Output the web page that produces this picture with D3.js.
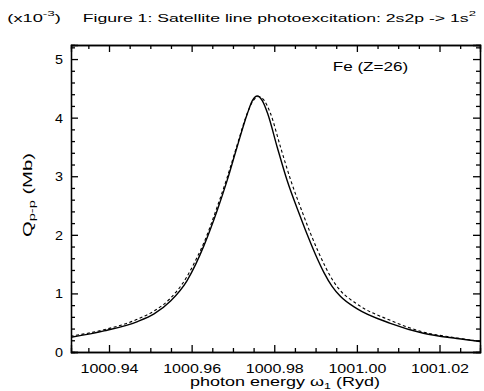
<!DOCTYPE html>
<html><head><meta charset="utf-8">
<script src="https://cdn.jsdelivr.net/npm/d3@7"></script>
<style>
html,body{margin:0;padding:0;background:#fff;}
svg{display:block;}
text{font-family:"Liberation Sans",Arial,sans-serif;fill:#000;}
</style></head><body>
<script>
// ---- data ----
const solidX = [1000.9307, 1000.9388, 1000.9469, 1000.9509, 1000.9549, 1000.9589, 1000.9610, 1000.9630, 1000.9662, 1000.9686, 1000.9710, 1000.9735, 1000.9747, 1000.9759, 1000.9771, 1000.9784, 1000.9807, 1000.9831, 1000.9862, 1000.9880, 1000.9900, 1000.9920, 1000.9940, 1000.9960, 1001.0000, 1001.0081, 1001.0161, 1001.0242, 1001.0298];
const solidY = [0.25, 0.36, 0.52, 0.65, 0.87, 1.22, 1.50, 1.82, 2.42, 2.93, 3.50, 4.07, 4.29, 4.37, 4.29, 4.07, 3.50, 2.93, 2.33, 2.00, 1.66, 1.36, 1.12, 0.95, 0.74, 0.49, 0.32, 0.23, 0.18];
const dashX = [1000.9307, 1000.9388, 1000.9469, 1000.9509, 1000.9549, 1000.9589, 1000.9610, 1000.9630, 1000.9662, 1000.9686, 1000.9710, 1000.9735, 1000.9749, 1000.9762, 1000.9776, 1000.9791, 1000.9815, 1000.9840, 1000.9871, 1000.9888, 1000.9906, 1000.9924, 1000.9942, 1000.9960, 1001.0000, 1001.0081, 1001.0161, 1001.0242, 1001.0298];
const dashY = [0.27, 0.38, 0.56, 0.70, 0.92, 1.29, 1.57, 1.87, 2.48, 2.98, 3.53, 4.08, 4.29, 4.36, 4.29, 4.07, 3.50, 2.93, 2.33, 2.02, 1.72, 1.45, 1.22, 1.05, 0.82, 0.54, 0.34, 0.24, 0.18];
const xDomain = [1000.9308, 1001.0298];
const yDomain = [0, 5.24];
const xTicks = [1000.94, 1000.96, 1000.98, 1001.00, 1001.02];
const xTickLabels = ["1000.94", "1000.96", "1000.98", "1001.00", "1001.02"];
const xMinorStep = 0.005;
const yTicks = [0, 1, 2, 3, 4, 5];
const yTickLabels = ["0", "1", "2", "3", "4", "5"];
const yMinorStep = 0.2;

// ---- layout ----
const W = 484, H = 391;
const L = 71, R = 480, T = 45, B = 352;

const svg = d3.select("body").append("svg").attr("width", W).attr("height", H);

const x = d3.scaleLinear().domain(xDomain).range([L, R]);
const y = d3.scaleLinear().domain(yDomain).range([B, T]);

const xMinor = d3.range(Math.ceil(xDomain[0] / xMinorStep) * xMinorStep, xDomain[1], xMinorStep)
  .filter(v => !xTicks.some(t => Math.abs(t - v) < 1e-6));
const yMinor = d3.range(0, yDomain[1], yMinorStep)
  .filter(v => !yTicks.some(t => Math.abs(t - v) < 1e-6));

function styleAxis(g) {
  g.selectAll(".domain").attr("stroke", "#000").attr("stroke-width", 1.3);
  g.selectAll(".tick line").attr("stroke", "#000").attr("stroke-width", 1.3);
}

// minor ticks
svg.append("g").attr("transform", `translate(0,${B})`)
  .call(d3.axisBottom(x).tickValues(xMinor).tickSize(-4).tickFormat(""))
  .call(styleAxis);
svg.append("g").attr("transform", `translate(0,${T})`)
  .call(d3.axisTop(x).tickValues(xMinor).tickSize(-4).tickFormat(""))
  .call(styleAxis);
svg.append("g").attr("transform", `translate(${L},0)`)
  .call(d3.axisLeft(y).tickValues(yMinor).tickSize(-4).tickFormat(""))
  .call(styleAxis);
svg.append("g").attr("transform", `translate(${R},0)`)
  .call(d3.axisRight(y).tickValues(yMinor).tickSize(-4).tickFormat(""))
  .call(styleAxis);

// major ticks
const xb = svg.append("g").attr("transform", `translate(0,${B})`)
  .call(d3.axisBottom(x).tickValues(xTicks).tickSize(-7)
    .tickFormat((d, i) => xTickLabels[i]))
  .call(styleAxis);
xb.selectAll(".tick text")
  .attr("y", 21).attr("dy", 0)
  .attr("font-size", 13).attr("font-family", "Liberation Sans")
  .attr("textLength", 58).attr("lengthAdjust", "spacingAndGlyphs");

svg.append("g").attr("transform", `translate(0,${T})`)
  .call(d3.axisTop(x).tickValues(xTicks).tickSize(-7).tickFormat(""))
  .call(styleAxis);

const yl = svg.append("g").attr("transform", `translate(${L},0)`)
  .call(d3.axisLeft(y).tickValues(yTicks).tickSize(-7)
    .tickFormat((d, i) => yTickLabels[i]).tickPadding(8))
  .call(styleAxis);
yl.selectAll(".tick text")
  .attr("font-size", 12.5).attr("font-family", "Liberation Sans")
  .attr("dy", "0.36em")
  .attr("textLength", 8).attr("lengthAdjust", "spacingAndGlyphs");

svg.append("g").attr("transform", `translate(${R},0)`)
  .call(d3.axisRight(y).tickValues(yTicks).tickSize(-7).tickFormat(""))
  .call(styleAxis);

// ---- curves ----
svg.append("clipPath").attr("id", "clip")
  .append("rect").attr("x", L).attr("y", T).attr("width", R - L).attr("height", B - T);

const line = d3.line().x(d => x(d[0])).y(d => y(d[1])).curve(d3.curveMonotoneX);

svg.append("path")
  .datum(dashX.map((v, i) => [v, dashY[i]]))
  .attr("clip-path", "url(#clip)")
  .attr("fill", "none").attr("stroke", "#000").attr("stroke-width", 1.1)
  .attr("stroke-dasharray", "3,2.5")
  .attr("d", line);

svg.append("path")
  .datum(solidX.map((v, i) => [v, solidY[i]]))
  .attr("clip-path", "url(#clip)")
  .attr("fill", "none").attr("stroke", "#000").attr("stroke-width", 1.4)
  .attr("d", line);

// ---- texts, stretched horizontally to the reference widths ----
function fitGroup(g, left, width) {
  const bb = g.node().getBBox();
  const k = width / bb.width;
  g.attr("transform", `translate(${left - bb.x * k},0) scale(${k},1)`);
}

// multiplier
{
  const g = svg.append("g");
  const t = g.append("text").attr("x", 0).attr("y", 21.7).attr("font-size", 10.8);
  t.append("tspan").text("(x10");
  t.append("tspan").attr("dy", -6).attr("font-size", 8).text("-3");
  t.append("tspan").attr("dy", 6).text(")");
  fitGroup(g, 7.3, 53.7);
}
// title
{
  const g = svg.append("g");
  const t = g.append("text").attr("x", 0).attr("y", 21.7).attr("font-size", 10.8);
  t.append("tspan").text("Figure 1: Satellite line photoexcitation: 2s2p -> 1s");
  t.append("tspan").attr("dy", -6).attr("font-size", 8).text("2");
  fitGroup(g, 82.7, 394.3);
}
// annotation
{
  const g = svg.append("g");
  g.append("text").attr("x", 0).attr("y", 70.7).attr("font-size", 12.5).text("Fe (Z=26)");
  fitGroup(g, 332.7, 75.6);
}
// x axis title
{
  const g = svg.append("g");
  const t = g.append("text").attr("x", 0).attr("y", 386.5).attr("font-size", 12.3);
  t.append("tspan").text("photon energy ω");
  t.append("tspan").attr("dy", 2.5).attr("font-size", 8.5).text("1");
  t.append("tspan").attr("dy", -2.5).text(" (Ryd)");
  fitGroup(g, 190, 190);
}
// y axis title
{
  const outer = svg.append("g").attr("transform", "translate(31.5,237) rotate(-90)");
  const g = outer.append("g");
  const t = g.append("text").attr("x", 0).attr("y", 0).attr("font-size", 12.5);
  t.append("tspan").text("Q");
  t.append("tspan").attr("dy", 3.5).attr("font-size", 9).text("p-p");
  t.append("tspan").attr("dy", -3.5).text("  (Mb)");
  const bb = g.node().getBBox();
  const k = 84 / bb.width;
  g.attr("transform", `translate(${-bb.x * k},0) scale(${k},1)`);
}
</script>
</body></html>
